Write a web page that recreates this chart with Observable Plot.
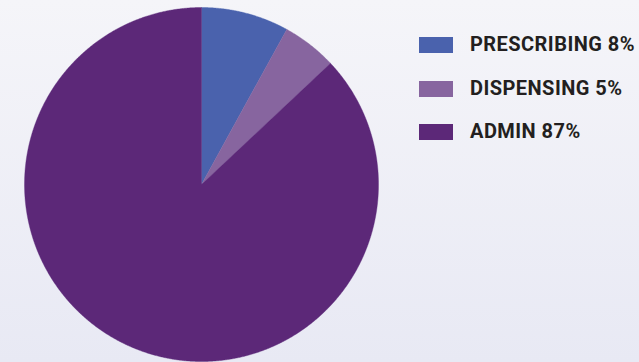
<!DOCTYPE html>
<html>
<head>
<meta charset="utf-8">
<script src="https://cdn.jsdelivr.net/npm/d3@7"></script>
<script src="https://cdn.jsdelivr.net/npm/@observablehq/plot@0.6"></script>
<style>
  html, body { margin: 0; padding: 0; }
  body {
    width: 639px; height: 362px; overflow: hidden; position: relative;
    background: linear-gradient(to bottom, #f5f5f9 0%, #e8e9f4 100%);
  }
  #chart { position: absolute; left: 0; top: 0; }
  #legend { position: absolute; left: 419px; top: 37px; font-family: Roboto, sans-serif; font-weight: 700; font-size: 20px; letter-spacing: 0.45px; color: #231f20; }
  .row { position: absolute; left: 0; height: 16px; white-space: nowrap; }
  .sw { position: absolute; left: 0; top: 0; width: 34px; height: 16px; }
  .lab { position: absolute; left: 51px; top: -3px; line-height: 20px; }
</style>
</head>
<body>
<div id="chart"></div>
<div id="legend"></div>
<script>
const categories = ["PRESCRIBING", "DISPENSING", "ADMIN"];
const values = [8, 5, 87];
const legendLabels = ["PRESCRIBING 8%", "DISPENSING 5%", "ADMIN 87%"];
const colors = ["#4a62ad", "#87659f", "#5c2878"];

const arcs = d3.pie().sort(null).value(d => d)(values);
const slices = arcs.map((a, i) => {
  const pts = [{x: 0, y: 0}];
  const n = Math.max(2, Math.ceil((a.endAngle - a.startAngle) / 0.005));
  for (let k = 0; k <= n; k++) {
    const t = a.startAngle + (a.endAngle - a.startAngle) * k / n;
    pts.push({x: Math.sin(t), y: Math.cos(t)});
  }
  pts.push({x: 0, y: 0});
  return {name: categories[i], color: colors[i], points: pts};
});

const chart = Plot.plot({
  width: 639,
  height: 362,
  margin: 0,
  style: {background: "transparent", overflow: "visible"},
  x: {domain: [-1, 1], range: [24, 378], axis: null},
  y: {domain: [-1, 1], range: [361, 7], axis: null},
  marks: slices.map(s => Plot.line(s.points, {x: "x", y: "y", fill: s.color, stroke: s.color, strokeWidth: 0.4, curve: "linear"}))
});
document.getElementById("chart").appendChild(chart);

const legend = document.getElementById("legend");
legendLabels.forEach((l, i) => {
  const row = document.createElement("div");
  row.className = "row";
  row.style.top = (i * 43.5) + "px";
  row.innerHTML = `<div class="sw" style="background:${colors[i]}"></div><div class="lab">${l}</div>`;
  legend.appendChild(row);
});
</script>
</body>
</html>
